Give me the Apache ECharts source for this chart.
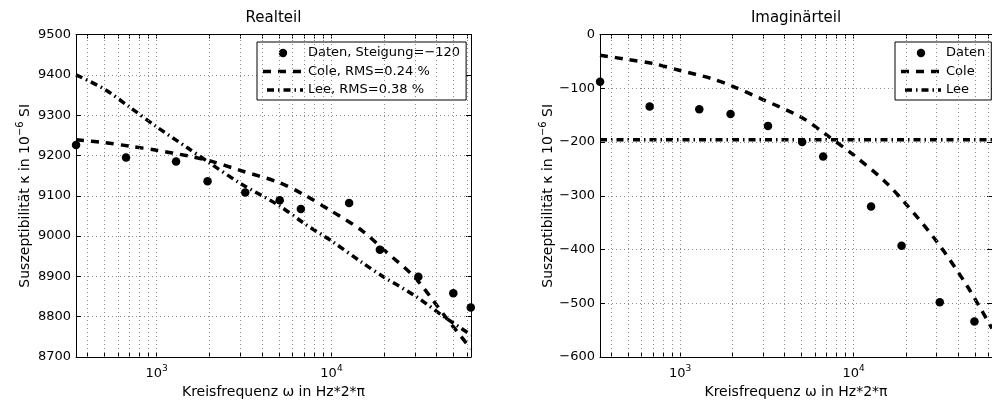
<!DOCTYPE html>
<html>
<head>
<meta charset="utf-8">
<script src="https://cdn.jsdelivr.net/npm/echarts@6/dist/echarts.min.js"></script>
<style>
  html, body { margin: 0; padding: 0; background: #fff; }
  #chart { width: 992px; height: 405px; }
</style>
</head>
<body>
<div id="chart"></div>
<script>
// measured points, omega = 2*pi*f
const omega = [346, 668, 1291, 1955, 3213, 5058, 6683, 12620, 18920, 31410, 49770, 62660];
const realData = [9226, 9195, 9185, 9136, 9108, 9089, 9067, 9082, 8966, 8899, 8858, 8823];
// last imaginary point lies outside the visible area of the figure
const imagData = [-88, -134, -139, -148, -170, -200, -227, -320, -393, -498, -534];

// model curves read at these frequencies
const omegaFit = [345.6, 500, 700, 1000, 1500, 2000, 3000, 5000, 7000, 10000, 15000, 20000, 30000, 45000, 62832];
const coleReal = [9239, 9232, 9223, 9213, 9199, 9187, 9163, 9133, 9102, 9062, 9013, 8965, 8897, 8799, 8720];
const leeReal = [9400, 9365, 9320, 9271, 9219, 9182, 9131, 9076, 9031, 8988, 8934, 8898, 8852, 8797, 8755];
const coleImag = [-38.5, -46.5, -54, -67, -81.5, -96, -121, -154, -187, -224, -272, -315, -384, -467, -547];
const omegaLee = [345.6, 62832];
const leeImag = [-196, -196];

// axis ranges / ticks
const xMin = 345.6, xMax = 62832;
const xGrid = [400, 500, 600, 700, 800, 900, 1000, 2000, 3000, 4000, 5000, 6000, 7000, 8000, 9000,
               10000, 20000, 30000, 40000, 50000, 60000];
const realRange = [8700, 9500];
const imagRange = [-600, 0];

const legendReal = ['Daten, Steigung=\u2212120', 'Cole, RMS=0.24 %', 'Lee, RMS=0.38 %'];
const legendImag = ['Daten', 'Cole', 'Lee'];

const FONT = 'DejaVu Sans';
const LW = 3.5;
const COLE_DASH = [8, 7];
const LEE_DASH = [7, 4, 1.5, 4];

const zip = (xs, ys) => ys.map((y, i) => [xs[i], y]);
const dotted = { color: '#8a8a8a', width: 1, type: [1, 3] };

function svgIcon(inner) {
    return 'image://data:image/svg+xml;charset=utf-8,' + encodeURIComponent(
        "<svg xmlns='http://www.w3.org/2000/svg' width='40' height='14'>" + inner + '</svg>');
}
const dotIcon = svgIcon("<circle cx='20' cy='7' r='4.2' fill='black'/>");
const coleIcon = svgIcon("<line x1='0' y1='7' x2='40' y2='7' stroke='black' stroke-width='" + LW +
    "' stroke-dasharray='" + COLE_DASH.join(' ') + "'/>");
const leeIcon = svgIcon("<line x1='0' y1='7' x2='40' y2='7' stroke='black' stroke-width='" + LW +
    "' stroke-dasharray='" + LEE_DASH.join(' ') + "' stroke-dashoffset='-4'/>");

const supRich = {
    b: { fontFamily: FONT, fontSize: 13, color: '#000', verticalAlign: 'bottom' },
    sup: { fontFamily: FONT, fontSize: 9, color: '#000', verticalAlign: 'bottom', padding: [0, 0, 7, 0] }
};
const nameRich = {
    b: { fontFamily: FONT, fontSize: 14, color: '#000', verticalAlign: 'bottom' },
    sup: { fontFamily: FONT, fontSize: 10, color: '#000', verticalAlign: 'bottom', padding: [0, 0, 7, 0] }
};

function xAxes(gridIndex, title) {
    const common = {
        type: 'log', gridIndex: gridIndex, min: xMin, max: xMax,
        axisLine: { show: true, onZero: false, lineStyle: { color: '#000', width: 1 } },
        axisTick: { show: true, inside: true, length: 4, customValues: xGrid, lineStyle: { color: '#000' } },
        splitLine: { show: false },
        minorTick: { show: false }
    };
    return [
        Object.assign({}, common, {
            position: 'bottom',
            name: 'Kreisfrequenz \u03c9 in Hz*2*\u03c0',
            nameLocation: 'middle', nameGap: 25,
            nameTextStyle: { fontFamily: FONT, fontSize: 14, color: '#000' },
            axisLabel: {
                margin: 7,
                showMinLabel: false, showMaxLabel: false,
                formatter: function (v) {
                    const l = Math.log10(v), e = Math.round(l);
                    return Math.abs(l - e) < 1e-6 ? '{b|10}{sup|' + e + '}' : '';
                },
                rich: supRich
            }
        }),
        Object.assign({}, common, {
            position: 'top',
            name: title, nameLocation: 'middle', nameGap: 9,
            nameTextStyle: { fontFamily: FONT, fontSize: 15, color: '#000' },
            axisLabel: { show: false }
        })
    ];
}

function yAxes(gridIndex, range) {
    const common = {
        type: 'value', gridIndex: gridIndex, min: range[0], max: range[1], interval: 100,
        axisLine: { show: true, lineStyle: { color: '#000', width: 1 } },
        axisTick: { show: true, inside: true, length: 5, lineStyle: { color: '#000' } }
    };
    return [
        Object.assign({}, common, {
            position: 'left',
            name: '{b|Suszeptibilit\u00e4t \u03ba in 10}{sup|\u22126}{b| SI}',
            nameLocation: 'middle', nameGap: 44,
            nameTextStyle: { rich: nameRich },
            axisLabel: {
                margin: 5, fontFamily: FONT, fontSize: 13, color: '#000',
                formatter: v => String(v).replace('-', '\u2212')
            },
            splitLine: { show: true, lineStyle: dotted }
        }),
        Object.assign({}, common, {
            position: 'right',
            axisLabel: { show: false },
            splitLine: { show: false }
        })
    ];
}

function legendBox(names, left) {
    return {
        data: [
            { name: names[0], icon: dotIcon },
            { name: names[1], icon: coleIcon },
            { name: names[2], icon: leeIcon }
        ],
        orient: 'vertical', left: left, top: 42,
        padding: [4, 6, 3, 6], itemGap: 4.5,
        itemWidth: 40, itemHeight: 14,
        borderColor: '#000', borderWidth: 1, borderRadius: 0,
        backgroundColor: '#fff',
        selectedMode: false,
        textStyle: { fontFamily: FONT, fontSize: 13, color: '#000' }
    };
}

const gridMarks = {
    silent: true, symbol: 'none', animation: false,
    label: { show: false },
    lineStyle: dotted,
    data: xGrid.map(v => ({ xAxis: v }))
};

const coleStyle = { color: '#000', width: LW, type: COLE_DASH };
const leeStyle = { color: '#000', width: LW, type: LEE_DASH };
const dotStyle = { color: '#000', opacity: 1 };

const chart = echarts.init(document.getElementById('chart'));
chart.setOption({
    animation: false,
    backgroundColor: '#fff',
    textStyle: { fontFamily: FONT },
    grid: [
        { left: 76, top: 34.5, width: 395, height: 322.5 },
        { left: 600, top: 34.5, width: 397, height: 322.5 }
    ],
    xAxis: xAxes(0, 'Realteil').concat(xAxes(1, 'Imagin\u00e4rteil')),
    yAxis: yAxes(0, realRange).concat(yAxes(1, imagRange)),
    legend: [legendBox(legendReal, 257), legendBox(legendImag, 895)],
    series: [
        {
            name: legendReal[0], type: 'scatter', xAxisIndex: 0, yAxisIndex: 0,
            data: zip(omega, realData), symbolSize: 8.5, clip: false,
            itemStyle: dotStyle, markLine: gridMarks, z: 5
        },
        {
            name: legendReal[1], type: 'line', xAxisIndex: 0, yAxisIndex: 0,
            data: zip(omegaFit, coleReal), symbol: 'none', smooth: 0.3,
            itemStyle: { color: '#000' }, lineStyle: coleStyle
        },
        {
            name: legendReal[2], type: 'line', xAxisIndex: 0, yAxisIndex: 0,
            data: zip(omegaFit, leeReal), symbol: 'none', smooth: 0.3,
            itemStyle: { color: '#000' }, lineStyle: leeStyle
        },
        {
            name: legendImag[0], type: 'scatter', xAxisIndex: 2, yAxisIndex: 2,
            data: zip(omega, imagData), symbolSize: 8.5, clip: false,
            itemStyle: dotStyle, markLine: gridMarks, z: 5
        },
        {
            name: legendImag[1], type: 'line', xAxisIndex: 2, yAxisIndex: 2,
            data: zip(omegaFit, coleImag), symbol: 'none', smooth: 0.3,
            itemStyle: { color: '#000' }, lineStyle: coleStyle
        },
        {
            name: legendImag[2], type: 'line', xAxisIndex: 2, yAxisIndex: 2,
            data: zip(omegaLee, leeImag), symbol: 'none',
            itemStyle: { color: '#000' }, lineStyle: leeStyle
        }
    ]
});
</script>
</body>
</html>
